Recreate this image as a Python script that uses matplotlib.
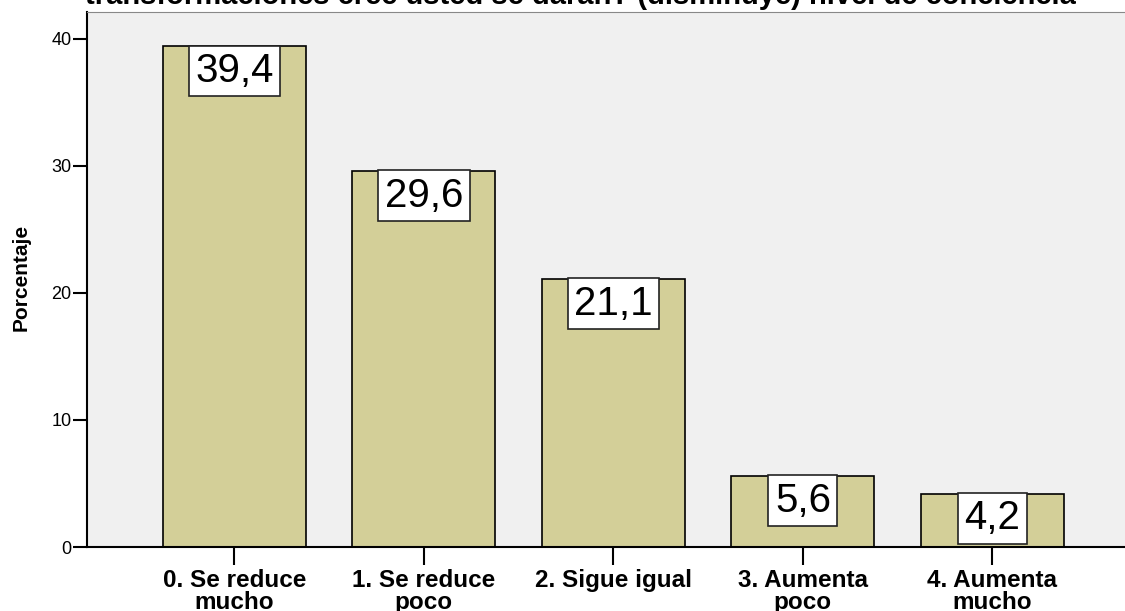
import matplotlib
matplotlib.use('Agg')
import matplotlib.pyplot as plt

# datos del grafico
categorias = ['0. Se reduce\nmucho', '1. Se reduce\npoco', '2. Sigue igual',
              '3. Aumenta\npoco', '4. Aumenta\nmucho']
porcentajes = [39.4, 29.6, 21.1, 5.6, 4.2]
etiquetas = ['39,4', '29,6', '21,1', '5,6', '4,2']
titulo = 'transformaciones cree usted se darán? (disminuye) nivel de conciencia'

plt.rcParams['font.family'] = ['Liberation Sans', 'DejaVu Sans']

fig = plt.figure(figsize=(11.25, 6.11), dpi=100)
ax = fig.add_axes([87 / 1125, 1 - 547 / 611, 1 - 87 / 1125, (547 - 12) / 611])
ax.set_facecolor('#f0f0f0')

x = list(range(len(categorias)))
ax.bar(x, porcentajes, width=0.755, color='#d3cf98', edgecolor='black', linewidth=1.2, zorder=2)

# cajas blancas con el valor, pegadas al borde superior de cada barra
for xi, v, t in zip(x, porcentajes, etiquetas):
    ax.text(xi, v - 0.45, t, ha='center', va='top', fontsize=29, zorder=3,
            bbox=dict(boxstyle='square,pad=0.16', facecolor='white', edgecolor='#222222', linewidth=1.2))

ax.set_xlim(-0.778, 4.70)
ax.set_ylim(0, 42.1)
ax.set_yticks([0, 10, 20, 30, 40])
ax.set_yticklabels(['0', '10', '20', '30', '40'], fontsize=13)
ax.set_xticks(x)
ax.set_xticklabels(categorias, fontsize=17.5, fontweight='bold', linespacing=0.95)
ax.tick_params(axis='x', length=13, width=1.5, pad=3)
ax.tick_params(axis='y', length=10, width=1.5, pad=1)

ax.spines['right'].set_visible(False)
ax.spines['top'].set_color('#888888')
ax.spines['top'].set_linewidth(0.8)
ax.spines['left'].set_linewidth(1.5)
ax.spines['bottom'].set_linewidth(1.5)

ax.set_ylabel('Porcentaje', fontsize=15, fontweight='bold')
ax.yaxis.set_label_coords(-0.054, 0.503)

fig.text(85 / 1125, 1 - 4 / 611, titulo, ha='left', va='baseline', fontsize=21, fontweight='bold')

plt.savefig('out.png', dpi=100)
